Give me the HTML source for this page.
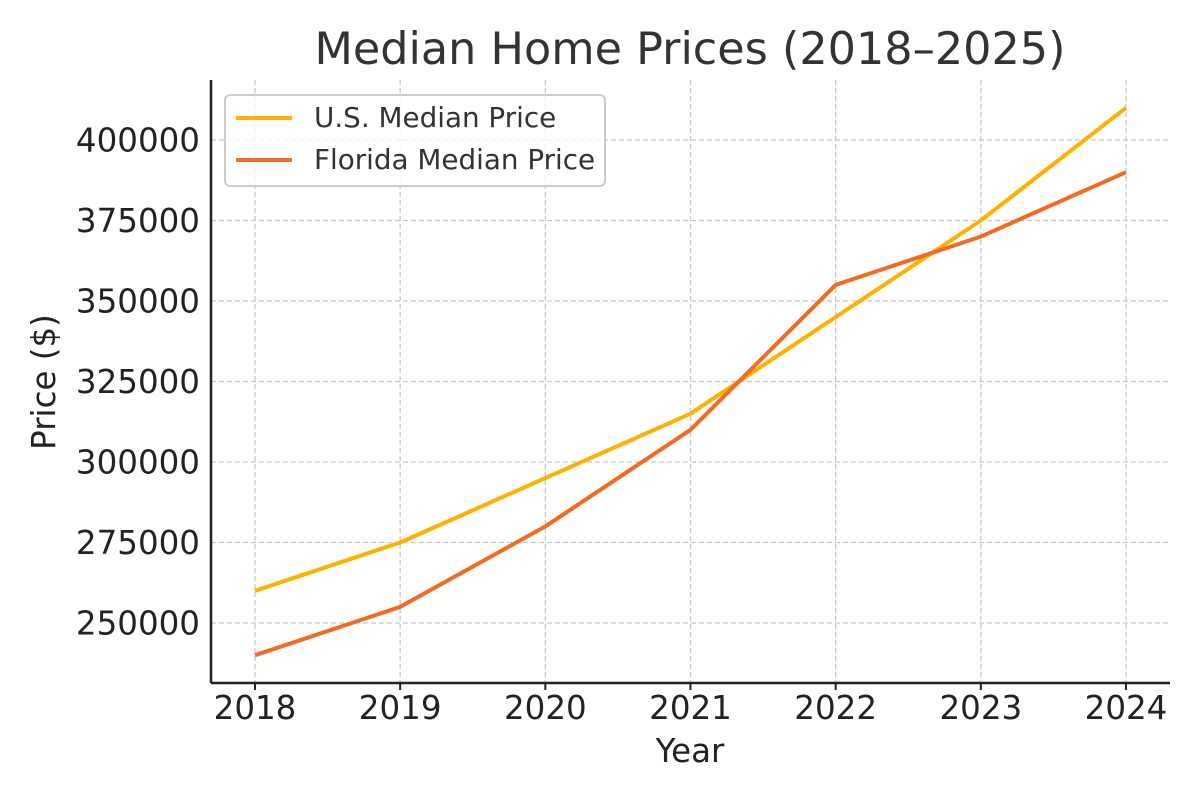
<!DOCTYPE html>
<html><head><meta charset="utf-8"><style>
body{margin:0;background:#fff}
svg{display:block;font-family:"DejaVu Sans","Liberation Sans",sans-serif}
</style></head><body>
<svg id="chart" width="1200" height="800" viewBox="0 0 1200 800">
<rect width="1200" height="800" fill="#fff"/>
<g id="grid"></g>
<g id="lines"></g>
<g id="axes"></g>
<text x="690" y="64" font-size="44.5" fill="#333" text-anchor="middle">Median Home Prices (2018–2025)</text>
<text x="690" y="762" font-size="32.5" fill="#222" text-anchor="middle">Year</text>
<text transform="translate(55,382) rotate(-90)" font-size="32.5" fill="#222" text-anchor="middle">Price ($)</text>
<g>
<rect x="225" y="95" width="380" height="91" rx="5" fill="#fff" fill-opacity="0.8" stroke="#ccc" stroke-width="2"/>
<line x1="236" y1="118" x2="292" y2="118" stroke="#FFB000" stroke-width="4"/>
<text x="314" y="127" font-size="27.8" fill="#333">U.S. Median Price</text>
<line x1="236" y1="160" x2="292" y2="160" stroke="#F26B21" stroke-width="4"/>
<text x="314" y="169" font-size="27.8" fill="#333">Florida Median Price</text>
</g>
</svg>
<script>
const years=[2018,2019,2020,2021,2022,2023,2024];
const usPrices=[260000,275000,295000,315000,345000,375000,410000];
const flPrices=[240000,255000,280000,310000,355000,370000,390000];
const yTicks=[250000,275000,300000,325000,350000,375000,400000];
const NS='http://www.w3.org/2000/svg';
const L=211,R=1170,T=80,B=683;
function xs(y){return 255+(y-2018)*(1126-255)/6;}
function ys(v){return 623-(v-250000)*(623-140)/150000;}
function mk(tag,attrs,parent){const e=document.createElementNS(NS,tag);for(const k in attrs)e.setAttribute(k,attrs[k]);parent.appendChild(e);return e;}
const grid=document.getElementById('grid'),axes=document.getElementById('axes'),lines=document.getElementById('lines');
years.forEach(y=>{
 const g=mk('line',{x1:xs(y),x2:xs(y),y1:T,y2:B,stroke:'#c8c8c8','stroke-width':1.3,'stroke-dasharray':'5,3'},grid);
 
 
 const t=mk('text',{x:xs(y),y:719,'font-size':32.5,fill:'#222','text-anchor':'middle'},axes);
 t.textContent=y;
 
 
 const tk=mk('line',{x1:xs(y),x2:xs(y),y1:B,y2:B+7,stroke:'#222','stroke-width':2},axes);
 
 
});
yTicks.forEach(v=>{
 const g=mk('line',{x1:L,x2:R,y1:ys(v),y2:ys(v),stroke:'#c8c8c8','stroke-width':1.3,'stroke-dasharray':'5,3'},grid);
 
 
 const t=mk('text',{x:200,y:ys(v)+11.5,'font-size':32.5,fill:'#222','text-anchor':'end'},axes);
 t.textContent=v;
 
 
});
const sp1=mk('line',{x1:L,x2:L,y1:T,y2:B,stroke:'#222','stroke-width':2.5},axes);


const sp2=mk('line',{x1:L,x2:R,y1:B,y2:B,stroke:'#222','stroke-width':2.5},axes);


function series(vals,color,name){
 const p=mk('polyline',{points:vals.map((v,i)=>xs(years[i])+','+ys(v)).join(' '),fill:'none',stroke:color,'stroke-width':4,'stroke-linejoin':'round'},lines);
 
 
}
series(usPrices,'#FFB000','us-median-line');
series(flPrices,'#F26B21','florida-median-line');
</script>
</body></html>
